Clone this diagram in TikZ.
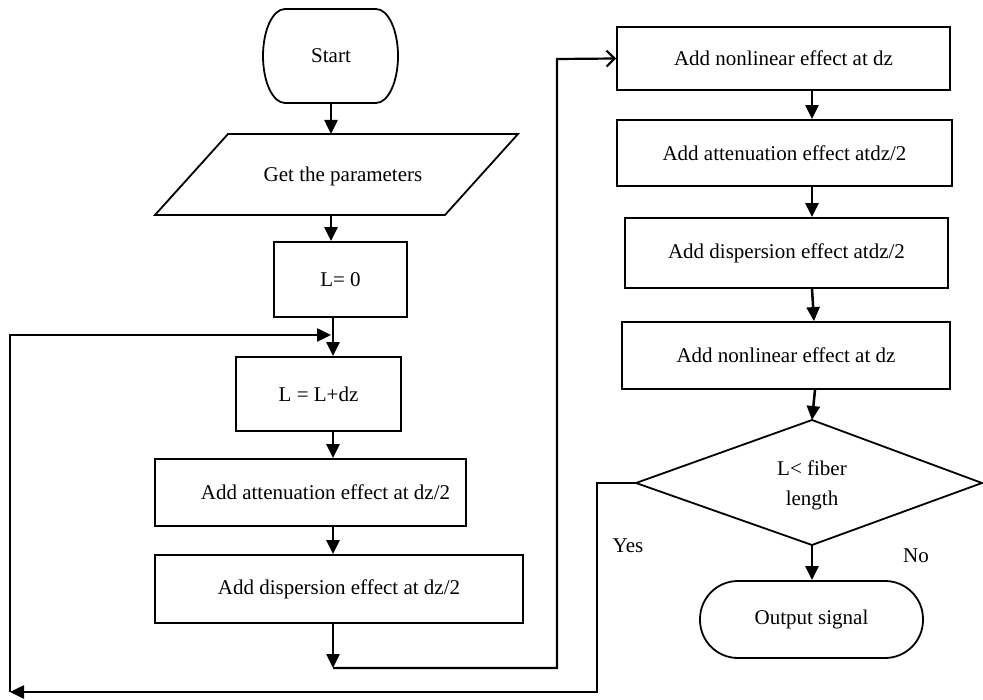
\documentclass[tikz,border=0pt]{standalone}
\usepackage{fontspec}
\setmainfont{Liberation Serif}
\usetikzlibrary{arrows.meta,calc}
\begin{document}
\begin{tikzpicture}[x=1pt,y=1pt,
  font=\fontsize{21}{25}\selectfont,
  box/.style={draw,line width=1.8pt,minimum width=#1,inner sep=0pt},
  conn/.style={line width=2.5pt,-{Triangle[length=14pt,width=13pt]}},
  lbl/.style={inner sep=0pt}]
\useasboundingbox (0,0) rectangle (983,-700);
% ---------- left column ----------
\node[lbl] (start) at (331,-56) {Start};
\draw[line width=1.8pt] (285,-9) -- (376,-9)
  arc[start angle=90,end angle=-90,x radius=22,y radius=47]
  -- (285,-103) arc[start angle=270,end angle=90,x radius=22,y radius=47] -- cycle;
\coordinate (startS) at (331,-103);
\node[lbl] (param) at (343,-176) {Get the parameters};
\draw[line width=1.8pt] (228,-134) -- (518,-134) -- (445,-215) -- (155,-215) -- cycle;
\coordinate (paramN) at (331,-134);
\coordinate (paramS) at (331,-215);
\node[box=133pt,minimum height=75pt] (L0) at (340.5,-279.5) {L= 0};
\node[box=165pt,minimum height=74pt] (LL) at (318.5,-394) {L = L+dz};
\node[box=311pt,minimum height=67pt] (att) at (310.5,-492.5) {\hspace*{30pt}Add attenuation effect at dz/2};
\node[box=368pt,minimum height=68pt] (disp) at (339,-589) {Add dispersion effect at dz/2};
\coordinate (lx) at (333,0);
\coordinate (m) at (333,-335);
\coordinate (j1) at (333,-668);
\coordinate (c1) at (10,-692);
% ---------- right column ----------
\node[box=333pt,minimum height=63pt] (b1) at (783.5,-58.5) {Add nonlinear effect at dz};
\node[box=335pt,minimum height=66pt] (b2) at (784.5,-153) {Add attenuation effect atdz/2};
\node[box=323pt,minimum height=70pt] (b3) at (786.5,-253) {Add dispersion effect atdz/2};
\node[box=328pt,minimum height=67pt] (b4) at (786,-355.5) {Add nonlinear effect at dz};
\coordinate (rx) at (812,0);
\coordinate (diaN) at (812,-420);
\coordinate (diaS) at (812,-545);
\coordinate (diaW) at (636,-483);
\coordinate (diaE) at (982,-483);
\draw[line width=1.8pt] (diaN) -- (diaE) -- (diaS) -- (diaW) -- cycle;
\node[lbl,align=center] (dia) at (812,-485) {L\textless{} fiber\\[5pt]length};
\node[draw,line width=1.8pt,rounded corners=38pt,minimum width=223pt,minimum height=77pt,inner sep=0pt] (out) at (811.5,-619.5) {Output signal};
\node[lbl] (yes) at (628,-546) {Yes};
\node[lbl] (no) at (916,-556) {No};
% ---------- connectors ----------
\draw[conn] (startS) -- (paramN);
\draw[conn] (paramS) -- (paramS |- L0.north);
\draw[conn] (lx |- L0.south) -- (lx |- LL.north);
\draw[conn] (lx |- LL.south) -- (lx |- att.north);
\draw[conn] (lx |- att.south) -- (lx |- disp.north);
\draw[conn] (lx |- disp.south) -- (j1);
\draw[line width=2.2pt,-{Straight Barb[length=8pt,width=16pt,line width=2.2pt]}] (j1) -- (557,-668) -- (557,-59) -- (b1.west);
\draw[conn] (diaW) -- (597,-483) -- (597,-692) -- (c1);
\draw[conn,shorten >=2pt] (c1) -- (10,-335) -- (m);
\draw[conn] (rx |- b1.south) -- (rx |- b2.north);
\draw[conn] (rx |- b2.south) -- (rx |- b3.north);
\draw[conn] (rx |- b3.south) -- ($(rx |- b4.north)+(2,0)$);
\draw[conn] ($(rx |- b4.south)+(3,0)$) -- (diaN);
\draw[conn] (diaS) -- (rx |- out.north);
\end{tikzpicture}
\end{document}
